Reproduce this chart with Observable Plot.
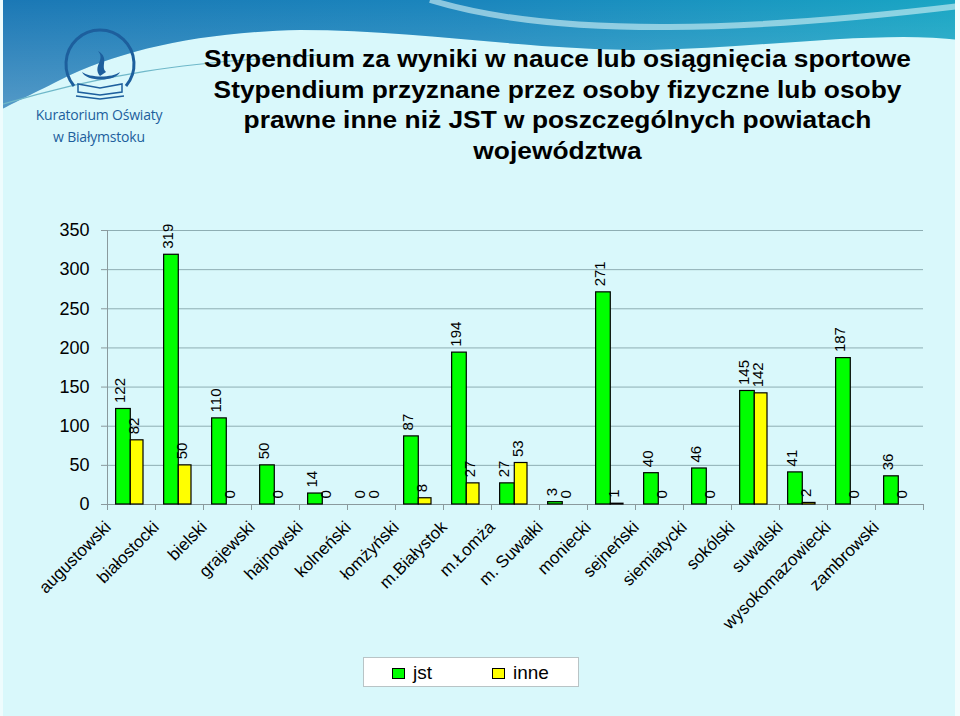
<!DOCTYPE html>
<html>
<head>
<meta charset="utf-8">
<script src="https://cdn.jsdelivr.net/npm/d3@7"></script>
<script src="https://cdn.jsdelivr.net/npm/@observablehq/plot@0.6"></script>
<style>
  html, body { margin: 0; padding: 0; }
  body { width: 960px; height: 716px; overflow: hidden; font-family: "Liberation Sans", Arial, sans-serif; }
  #page { position: relative; width: 960px; height: 716px; background: #d9f8fb; overflow: hidden; }
  #banner { position: absolute; left: 0; top: 0; }
  #title { position: absolute; left: 180px; width: 755px; top: 44px; text-align: center;
           font-weight: bold; font-size: 23px; line-height: 30.5px; color: #000;
           transform: scaleX(1.145); transform-origin: 377.5px 0; }
  #logo { position: absolute; left: 20px; top: 16px; width: 160px; height: 130px; }
  #logoText { position: absolute; left: 20px; width: 158px; top: 104px; text-align: center;
              color: #1d5f9d; font-family: "Open Sans", "DejaVu Sans", sans-serif; font-size: 14px; line-height: 22px; letter-spacing: -0.2px; }
  #chart { position: absolute; left: 0; top: 200px; }
  #legend { position: absolute; left: 363px; top: 657px; width: 214px; height: 28px; background: #fff;
            border: 1px solid #b9c4c6; font-size: 19px; }
  .li { position: absolute; top: 4px; display: flex; align-items: center; }
  .sw { width: 11px; height: 9px; border: 1px solid #000; margin-right: 8px; }
  #rightEdge { position: absolute; right: 0; top: 0; width: 5px; height: 716px; background: #f2fdfd; }
  #leftEdge { position: absolute; left: 0; top: 0; width: 3px; height: 716px; background: #eefcfd; }
</style>
</head>
<body>
<div id="page">
  <svg id="banner" width="960" height="200">
    <defs>
      <linearGradient id="bg1" x1="0" y1="0" x2="1" y2="0">
        <stop offset="0" stop-color="#1b78b5"/>
        <stop offset="0.5" stop-color="#1a86bd"/>
        <stop offset="1" stop-color="#19a6c4"/>
      </linearGradient>
      <linearGradient id="bg2" x1="0" y1="0" x2="0" y2="1">
        <stop offset="0" stop-color="#ffffff" stop-opacity="0.0"/>
        <stop offset="1" stop-color="#ffffff" stop-opacity="0.25"/>
      </linearGradient>
    </defs>
    <path d="M0,0 L960,0 L960,40 C880,30 760,48 650,50 C520,50 420,30 300,30 C200,32 120,50 60,80 C30,95 10,105 0,110 Z" fill="url(#bg1)"/>
    <path d="M0,0 L960,0 L960,40 C880,30 760,48 650,50 C520,50 420,30 300,30 C200,32 120,50 60,80 C30,95 10,105 0,110 Z" fill="url(#bg2)"/>
    <path d="M430,0 C560,40 760,30 960,6" fill="none" stroke="#d7f4f7" stroke-opacity="0.6" stroke-width="6"/>
    <path d="M0,105 C100,75 180,62 320,55" fill="none" stroke="#6fb8c9" stroke-width="1.2"/>
  </svg>
  <div id="rightEdge"></div>
  <div id="leftEdge"></div>
  <svg id="logo" width="160" height="130">
    <path d="M54,70 A34,34 0 1 1 106,70" fill="none" stroke="#1d5f9d" stroke-width="3"/>
    <path d="M62,56 C70,62 92,62 100,56 C96,66 66,66 62,56 Z" fill="#1d5f9d"/>
    <path d="M80,60 C72,50 86,44 78,35 C90,42 80,50 86,56 Z" fill="#1d5f9d"/>
    <path d="M58,68 L80,72 L102,68 L102,76 L80,79 L58,76 Z" fill="none" stroke="#1d5f9d" stroke-width="1.5"/>
    <path d="M56,80 L80,83 L104,80" fill="none" stroke="#1d5f9d" stroke-width="1.5"/>
  </svg>
  <div id="logoText">Kuratorium Oświaty<br>w Białymstoku</div>
  <div id="title">Stypendium za wyniki w nauce lub osiągnięcia sportowe<br>Stypendium przyznane przez osoby fizyczne lub osoby<br>prawne inne niż JST w poszczególnych powiatach<br>województwa</div>
  <div id="chart"></div>
  <div id="legend">
    <div class="li" style="left:28px"><div class="sw" style="background:#00ff00"></div><span>jst</span></div>
    <div class="li" style="left:128px"><div class="sw" style="background:#ffff00"></div><span>inne</span></div>
  </div>
</div>
<script>
// ---- data ----
const categories = ["augustowski", "białostocki", "bielski", "grajewski", "hajnowski", "kolneński",
  "łomżyński", "m.Białystok", "m.Łomża", "m. Suwałki", "moniecki", "sejneński", "siemiatycki",
  "sokólski", "suwalski", "wysokomazowiecki", "zambrowski"];
const jst  = [122, 319, 110, 50, 14, 0, 87, 194, 27, 3, 271, 40, 46, 145, 41, 187, 36];
const inne = [82, 50, 0, 0, 0, 0, 8, 27, 53, 0, 1, 0, 0, 142, 2, 0, 0];
const yTicks = [0, 50, 100, 150, 200, 250, 300, 350];

const rows = categories.map((c, i) => ({cat: c, jst: jst[i], inne: inne[i]}));

const GREEN = "#00ff00", YELLOW = "#ffff00";
const W = 960, H = 516, ML = 107, MR = 37, MT = 30, MB = 212;
const band = (W - ML - MR) / categories.length;

const chart = Plot.plot({
  width: W, height: H,
  marginLeft: ML, marginRight: MR, marginTop: MT, marginBottom: MB,
  style: {background: "transparent", fontFamily: "Liberation Sans, Arial, sans-serif", color: "#000", overflow: "visible"},
  x: {type: "band", domain: categories, padding: 0, axis: null},
  y: {domain: [0, 350], axis: null},
  marks: [
    Plot.gridY(yTicks.filter(d => d > 0), {stroke: "#8eaeb3", strokeOpacity: 1}),
    Plot.frame({anchor: "left", stroke: "#8a9a9d"}),
    Plot.ruleY([0], {stroke: "#8a9a9d"}),
    Plot.ruleX(categories, {x: d => d, dx: -band / 2, y1: 0, y2: 0, insetTop: 6, stroke: "#8a9a9d"}),
    Plot.ruleX(categories.slice(-1), {x: d => d, dx: band / 2, y1: 0, y2: 0, insetTop: 6, stroke: "#8a9a9d"}),
    Plot.axisY(yTicks, {tickSize: 6, tickPadding: 12, fontSize: 18, stroke: "#8a9a9d", tickFormat: d => String(d)}),
    Plot.barY(rows, {x: "cat", y: "jst", fill: GREEN, stroke: "#000", strokeWidth: 1.2,
      insetLeft: band * 0.18, insetRight: band * 0.515}),
    Plot.barY(rows, {x: "cat", y: "inne", fill: YELLOW, stroke: "#000", strokeWidth: 1.2,
      insetLeft: band * 0.485, insetRight: band * 0.25}),
    Plot.text(rows, {x: "cat", y: "jst", text: d => String(d.jst), rotate: -90, textAnchor: "start",
      lineAnchor: "middle", dx: -11, dy: -6, fontSize: 15, fill: "#000"}),
    Plot.text(rows, {x: "cat", y: "inne", text: d => String(d.inne), rotate: -90, textAnchor: "start",
      lineAnchor: "middle", dx: 3, dy: -6, fontSize: 15, fill: "#000"}),
    Plot.text(categories, {x: d => d, frameAnchor: "bottom", text: d => d, rotate: -45, textAnchor: "end",
      lineAnchor: "top", dx: -28, dy: 15, fontSize: 17, fill: "#000"})
  ]
});
document.getElementById("chart").appendChild(chart);
</script>
</body>
</html>
